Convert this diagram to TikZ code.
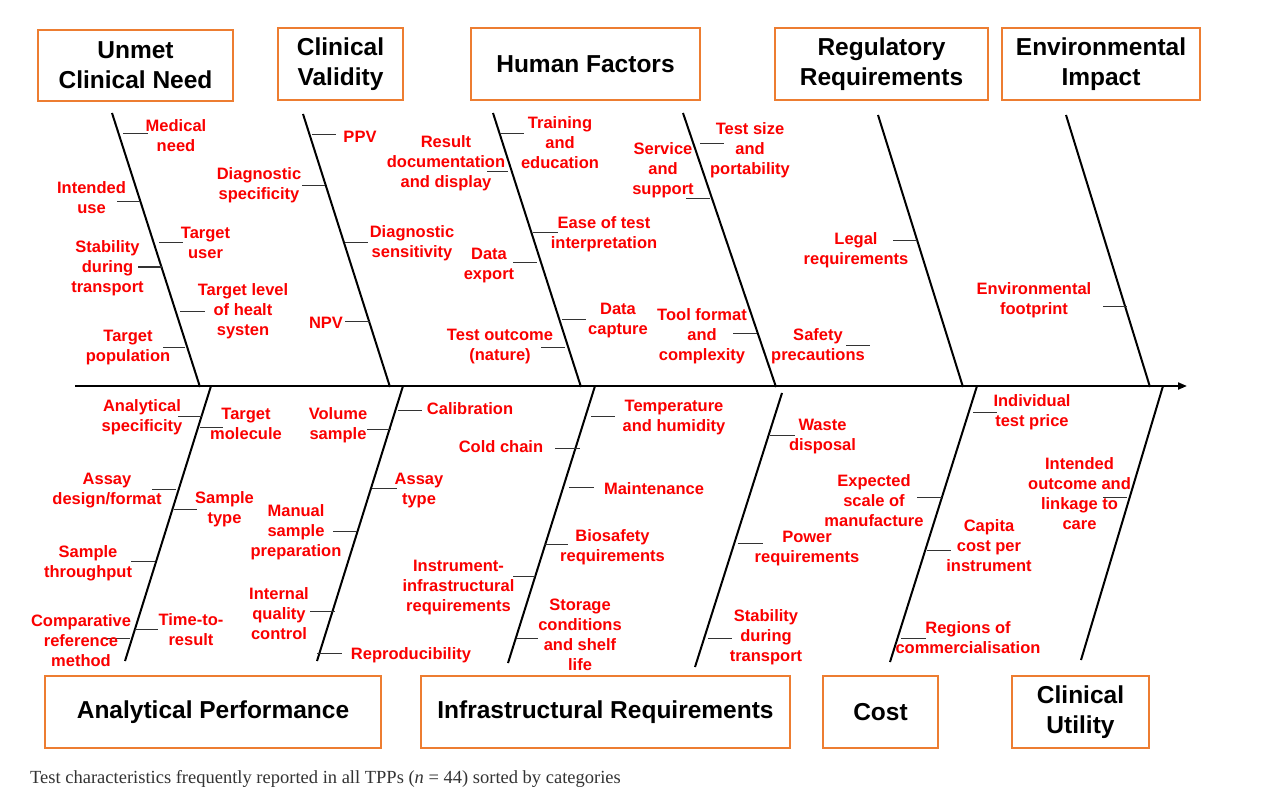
\documentclass[tikz,border=0pt]{standalone}
\usepackage{fontspec}
\setmainfont{Liberation Sans}
\newfontfamily\capfont{Liberation Serif}
\usetikzlibrary{arrows.meta}
\definecolor{boxorange}{RGB}{237,125,49}
\definecolor{lblred}{RGB}{250,0,0}
\newcommand\myrib[3]{\draw[ribline] (#2,#1) -- (#3,#1);}
\begin{document}
\begin{tikzpicture}[x=1pt,y=-1pt,
 catbox/.style={draw=boxorange,line width=2pt,align=center,inner sep=0pt,fill=white,font=\fontsize{24.5}{30}\selectfont\bfseries},
 lbl/.style={text=lblred,align=center,inner sep=0pt,font=\fontsize{16.5}{20}\selectfont\bfseries},
 bone/.style={line width=2pt,black},
 ribline/.style={line width=1pt,black!80}]
\useasboundingbox[fill=white] (0,0) rectangle (1280,805);

% category boxes
\node[catbox,minimum width=195pt,minimum height=71pt] (unmet) at (135.5,65.5) {Unmet\\Clinical Need};
\node[catbox,minimum width=125pt,minimum height=72pt] (valid) at (340.5,64) {Clinical\\Validity};
\node[catbox,minimum width=229pt,minimum height=72pt] (human) at (585.5,64) {Human Factors};
\node[catbox,minimum width=213pt,minimum height=72pt] (regul) at (881.5,64) {Regulatory\\Requirements};
\node[catbox,minimum width=198pt,minimum height=72pt] (envir) at (1101,64) {Environmental\\Impact};
\node[catbox,minimum width=336pt,minimum height=72pt] (analy) at (213,712) {Analytical Performance};
\node[catbox,minimum width=369pt,minimum height=72pt] (infra) at (605.5,712) {Infrastructural Requirements};
\node[catbox,minimum width=115pt,minimum height=72pt] (cost) at (880.5,712) {Cost};
\node[catbox,minimum width=137pt,minimum height=72pt] (util) at (1080.5,712) {Clinical\\Utility};

% spine
\coordinate (spS) at (75,386);
\coordinate (spE) at (1187,386);
\draw[line width=2pt,-{Triangle[length=9pt,width=7pt]}] (spS) -- (spE);

% upper bones
\coordinate (u1t) at (112,113);  \coordinate (u1b) at (200,387);
\coordinate (u2t) at (303,114);  \coordinate (u2b) at (390,387);
\coordinate (u3t) at (493,113);  \coordinate (u3b) at (581,387);
\coordinate (u4t) at (683,113);  \coordinate (u4b) at (776,387);
\coordinate (u5t) at (878,115);  \coordinate (u5b) at (963,387);
\coordinate (u6t) at (1066,115); \coordinate (u6b) at (1150,387);
\foreach \i in {1,...,6} {\draw[bone] (u\i t) -- (u\i b);}

% lower bones
\coordinate (l1t) at (211,386);  \coordinate (l1b) at (125,661);
\coordinate (l2t) at (403,386);  \coordinate (l2b) at (317,661);
\coordinate (l3t) at (595,386);  \coordinate (l3b) at (508,663);
\coordinate (l4t) at (782,393);  \coordinate (l4b) at (695,667);
\coordinate (l5t) at (977,386);  \coordinate (l5b) at (890,662);
\coordinate (l6t) at (1163,386); \coordinate (l6b) at (1081,660);
\foreach \i in {1,...,6} {\draw[bone] (l\i t) -- (l\i b);}

% ribs upper
\myrib{134}{123}{148}\myrib{202}{117}{140}\myrib{243}{159}{183}
\myrib{267}{138}{162}\myrib{311}{180}{205}\myrib{347}{163}{185}
\myrib{135}{312}{336}\myrib{186}{302}{325}\myrib{243}{345}{368}\myrib{321}{345}{370}
\myrib{134}{500}{524}\myrib{172}{487}{508}\myrib{233}{533}{558}
\myrib{263}{513}{537}\myrib{319}{562}{586}\myrib{347}{541}{565}
\myrib{144}{700}{724}\myrib{199}{686}{710}\myrib{333}{733}{757}\myrib{345}{846}{870}
\myrib{241}{893}{917}
\myrib{306}{1103}{1127}
% ribs lower
\myrib{416}{178}{202}\myrib{427}{200}{223}\myrib{489}{152}{176}\myrib{509}{174}{197}
\myrib{561}{131}{155}\myrib{638}{103}{130}\myrib{629}{135}{158}
\myrib{429}{367}{391}\myrib{410}{398}{422}\myrib{488}{372}{397}
\myrib{531}{333}{357}\myrib{611}{310}{335}\myrib{653}{317}{342}
\myrib{416}{591}{615}\myrib{448}{555}{580}\myrib{487}{569}{594}
\myrib{544}{544}{568}\myrib{576}{513}{535}\myrib{638}{517}{538}
\myrib{435}{770}{795}\myrib{543}{738}{763}\myrib{638}{708}{732}\myrib{497}{917}{942}
\myrib{412}{973}{997}\myrib{550}{927}{951}\myrib{638}{901}{926}
\myrib{497}{1103}{1127}

% labels upper
\node[lbl] (t1) at (176,135.5) {Medical\\need};
\node[lbl] (t2) at (91.5,198) {Intended\\use};
\node[lbl] (t3) at (205.5,243) {Target\\user};
\node[lbl] (t4) at (107.5,268) {Stability\\during\\transport};
\node[lbl] (t5) at (243,311) {Target level\\of healt\\systen};
\node[lbl] (t6) at (128,348) {Target\\population};
\node[lbl] (t7) at (360,137) {PPV};
\node[lbl] (t8) at (259,185) {Diagnostic\\specificity};
\node[lbl] (t9) at (412,243) {Diagnostic\\sensitivity};
\node[lbl] (t10) at (326,323) {NPV};
\node[lbl] (t11) at (560,143) {Training\\and\\education};
\node[lbl] (t12) at (446,163) {Result\\documentation\\and display};
\node[lbl] (t13) at (604,234.5) {Ease of test\\interpretation};
\node[lbl] (t14) at (489,265.5) {Data\\export};
\node[lbl] (t15) at (618,321) {Data\\capture};
\node[lbl] (t16) at (500,347) {Test outcome\\(nature)};
\node[lbl] (t17) at (663,170.5) {Service\\and\\support};
\node[lbl] (t18) at (750,150) {Test size\\and\\portability};
\node[lbl] (t19) at (702,336) {Tool format\\and\\complexity};
\node[lbl] (t20) at (818,346.5) {Safety\\precautions};
\node[lbl] (t21) at (856,250.5) {Legal\\requirements};
\node[lbl] (t22) at (1034,300.5) {Environmental\\footprint};

% labels lower
\node[lbl] (b1) at (142,417.5) {Analytical\\specificity};
\node[lbl] (b2) at (246,424) {Target\\molecule};
\node[lbl] (b3) at (338,425) {Volume\\sample};
\node[lbl] (b4) at (107,491) {Assay\\design/format};
\node[lbl] (b5) at (224.5,509) {Sample\\type};
\node[lbl] (b6) at (296,532) {Manual\\sample\\preparation};
\node[lbl] (b7) at (88,563) {Sample\\throughput};
\node[lbl] (b8) at (279,613.5) {Internal\\quality\\control};
\node[lbl] (b9) at (81,641) {Comparative\\reference\\method};
\node[lbl] (b10) at (191,629.5) {Time-to-\\result};
\node[lbl] (b11) at (411,655) {Reproducibility};
\node[lbl] (b12) at (470,409) {Calibration};
\node[lbl] (b13) at (674,417.5) {Temperature\\and humidity};
\node[lbl] (b14) at (501,447) {Cold chain};
\node[lbl] (b15) at (419,491) {Assay\\type};
\node[lbl] (b16) at (654,489) {Maintenance};
\node[lbl] (b17) at (612.5,547.5) {Biosafety\\requirements};
\node[lbl] (b18) at (458.5,587.5) {Instrument-\\infrastructural\\requirements};
\node[lbl] (b19) at (580,635) {Storage\\conditions\\and shelf\\life};
\node[lbl] (b20) at (822.5,437) {Waste\\disposal};
\node[lbl] (b21) at (807,549) {Power\\requirements};
\node[lbl] (b22) at (766,637) {Stability\\during\\transport};
\node[lbl] (b23) at (874,501) {Expected\\scale of\\manufacture};
\node[lbl] (b24) at (1032,412.5) {Individual\\test price};
\node[lbl] (b25) at (989,546) {Capita\\cost per\\instrument};
\node[lbl] (b26) at (968,638) {Regions of\\commercialisation};
\node[lbl] (b27) at (1079.5,494) {Intended\\outcome and\\linkage to\\care};

% caption
\node[anchor=west,inner sep=0pt,text=black!80,font=\capfont\fontsize{18.5}{22}\selectfont] (cap) at (30,779) {Test characteristics frequently reported in all TPPs (\textit{n} = 44) sorted by categories};
\end{tikzpicture}
\end{document}
